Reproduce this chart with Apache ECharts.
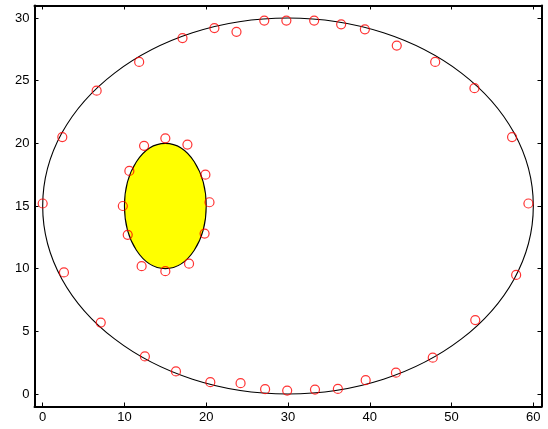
<!DOCTYPE html>
<html><head><meta charset="utf-8">
<script src="https://cdn.jsdelivr.net/npm/echarts@6/dist/echarts.min.js"></script>
<style>html,body{margin:0;padding:0;background:#fff}#c{width:548px;height:429px}</style>
</head><body><div id="c"></div><script>
// Sample points around the outer ellipse
const outerX = [0.0, 2.4, 6.6, 11.8, 17.1, 21.0, 23.7, 27.1, 29.8, 33.2, 36.5, 39.4, 43.3, 48.0, 52.8, 57.4, 59.4,
                57.9, 52.9, 47.7, 43.2, 39.5, 36.1, 33.3, 29.9, 27.2, 24.2, 20.5, 16.3, 12.5, 7.1, 2.6];
const outerY = [15.2, 20.5, 24.2, 26.5, 28.4, 29.2, 28.9, 29.8, 29.8, 29.8, 29.5, 29.1, 27.8, 26.5, 24.4, 20.5, 15.2,
                9.5, 5.9, 2.9, 1.7, 1.1, 0.4, 0.35, 0.27, 0.38, 0.86, 0.94, 1.8, 3.0, 5.7, 9.7];
// Sample points around the inner ellipse
const innerX = [15.0, 12.4, 17.7, 10.6, 19.9, 9.8, 20.4, 10.4, 19.8, 12.1, 17.9, 15.0];
const innerY = [20.4, 19.8, 19.9, 17.8, 17.5, 15.0, 15.3, 12.7, 12.8, 10.2, 10.4, 9.8];
// Ellipses: centre and semi-axes
const ellipseCx = [30, 15];
const ellipseCy = [15, 15];
const ellipseRx = [30, 5];
const ellipseRy = [15, 5];
// Axis ticks
const xTicks = [0, 10, 20, 30, 40, 50, 60];
const yTicks = [0, 5, 10, 15, 20, 25, 30];

const chart = echarts.init(document.getElementById('c'), null, {renderer: 'canvas'});
const font = 'Liberation Sans, Arial, sans-serif';
function xAx(pos, show) {
  return {
    type: 'value', position: pos, min: -1, max: 61,
    interval: xTicks[1] - xTicks[0],
    axisLine: {show: true, onZero: false, lineStyle: {color: '#000', width: 2}},
    axisTick: {show: true, inside: true, length: 4, lineStyle: {color: '#000', width: 1},
      customValues: xTicks},
    axisLabel: {show: show, color: '#000', fontSize: 13, fontFamily: font, margin: 4,
      customValues: xTicks},
    splitLine: {show: false}
  };
}
function yAx(pos, show) {
  return {
    type: 'value', position: pos, min: -1, max: 31,
    interval: yTicks[1] - yTicks[0],
    axisLine: {show: true, onZero: false, lineStyle: {color: '#000', width: 2}},
    axisTick: {show: true, inside: true, length: 4, lineStyle: {color: '#000', width: 1},
      customValues: yTicks},
    axisLabel: {show: show, color: '#000', fontSize: 13, fontFamily: font, margin: 5,
      customValues: yTicks},
    splitLine: {show: false}
  };
}
const ellData = ellipseCx.map((cx, i) => [cx, ellipseCy[i], ellipseRx[i], ellipseRy[i]]);
function ellipseSeries(i, fill) {
  return {
    type: 'custom', xAxisIndex: 0, yAxisIndex: 0, clip: false, silent: true,
    data: [ellData[i]],
    renderItem: function (params, api) {
      const c = api.coord([api.value(0), api.value(1)]);
      const s = api.size([api.value(2), api.value(3)]);
      return {type: 'ellipse', shape: {cx: c[0], cy: c[1], rx: s[0], ry: s[1]},
        style: {fill: fill, stroke: '#000', lineWidth: 1.1}};
    },
    z: 2
  };
}
const markerStyle = {color: 'rgba(0,0,0,0)', borderColor: '#ff0000', borderWidth: 1.2};
chart.setOption({
  animation: false,
  backgroundColor: '#fff',
  grid: {left: 34.5, right: 6.5, top: 5.5, bottom: 22.5, containLabel: false},
  xAxis: [xAx('bottom', true), xAx('top', false)],
  yAxis: [yAx('left', true), yAx('right', false)],
  series: [
    ellipseSeries(0, 'none'),
    ellipseSeries(1, '#ffff00'),
    {type: 'scatter', symbol: 'circle', symbolSize: 9, itemStyle: markerStyle, z: 5,
      data: outerX.map((x, i) => [x, outerY[i]])},
    {type: 'scatter', symbol: 'circle', symbolSize: 9, itemStyle: markerStyle, z: 5,
      data: innerX.map((x, i) => [x, innerY[i]])}
  ]
});
</script></body></html>
